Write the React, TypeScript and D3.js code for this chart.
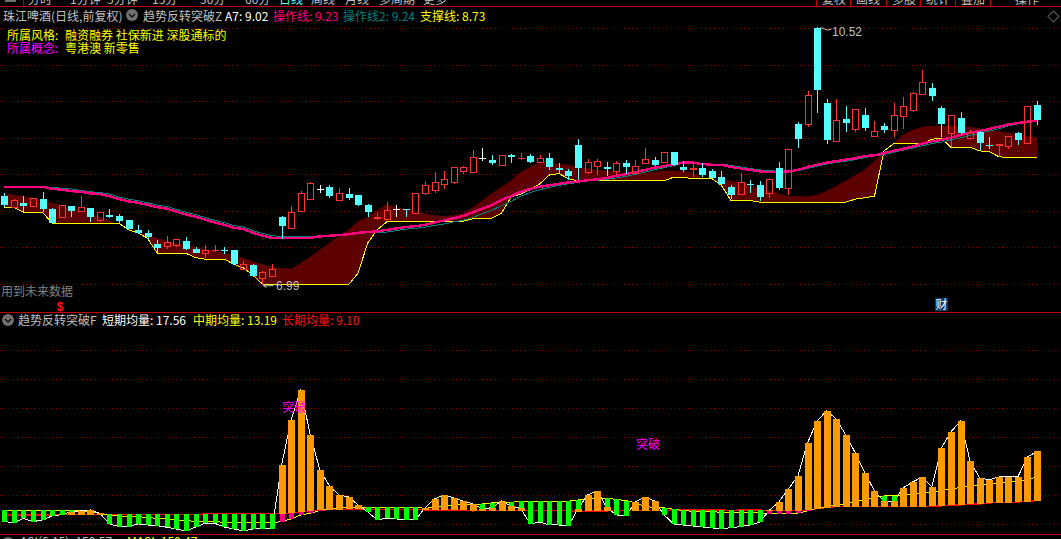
import * as d3 from 'd3';

const WIDTH = 1061;
const HEIGHT = 539;

// candles (price)
const opens = [8.20,8.06,8.11,8.06,8.16,8.03,7.91,8.06,7.99,8.04,7.87,7.95,7.93,7.88,7.74,7.70,7.55,7.51,7.54,7.59,7.48,7.43,7.44,7.46,7.46,7.21,7.26,7.09,7.12,7.92,7.77,7.99,8.16,8.30,8.33,8.16,8.23,8.21,8.08,7.88,7.89,8.02,8.02,7.97,8.24,8.28,8.36,8.39,8.54,8.52,8.72,8.70,8.63,8.76,8.71,8.75,8.66,8.72,8.59,8.55,8.90,8.54,8.61,8.60,8.55,8.66,8.52,8.66,8.70,8.66,8.81,8.60,8.55,8.59,8.55,8.46,8.33,8.22,8.37,8.35,8.24,8.59,8.30,9.19,9.19,10.50,9.48,8.95,9.26,9.12,9.31,9.02,9.16,9.10,9.29,9.38,9.60,9.68,9.41,9.07,9.27,9.00,9.08,8.90,8.88,8.89,9.07,8.92,9.45];
const closes = [8.08,8.15,8.07,8.17,8.03,7.84,8.08,7.99,8.05,7.92,7.98,7.92,7.86,7.76,7.70,7.64,7.50,7.57,7.62,7.48,7.43,7.47,7.46,7.45,7.27,7.28,7.11,7.17,7.21,7.80,7.99,8.24,8.38,8.30,8.21,8.25,8.18,8.07,7.98,7.91,8.01,8.02,8.01,8.24,8.35,8.39,8.43,8.60,8.60,8.73,8.72,8.66,8.76,8.73,8.72,8.67,8.72,8.60,8.56,8.48,8.58,8.67,8.68,8.57,8.66,8.60,8.61,8.71,8.63,8.80,8.63,8.56,8.58,8.50,8.46,8.37,8.22,8.39,8.36,8.18,8.43,8.31,8.84,8.98,9.59,9.65,8.97,9.24,9.20,9.39,9.13,9.09,9.11,9.31,9.43,9.61,9.76,9.57,9.19,9.31,9.07,9.07,8.93,8.89,8.91,9.02,8.98,9.43,9.24];
const highs = [8.24,8.16,8.20,8.17,8.26,8.04,8.08,8.07,8.20,8.04,7.99,8.02,7.96,7.88,7.81,7.74,7.60,7.66,7.62,7.64,7.50,7.53,7.53,7.51,7.47,7.32,7.27,7.18,7.27,7.93,8.07,8.27,8.39,8.35,8.35,8.31,8.31,8.21,8.10,7.97,8.12,8.08,8.03,8.24,8.41,8.53,8.55,8.60,8.61,8.83,8.86,8.76,8.76,8.78,8.79,8.78,8.76,8.79,8.66,8.57,8.98,8.71,8.71,8.67,8.68,8.70,8.70,8.86,8.73,8.81,8.81,8.68,8.65,8.65,8.57,8.55,8.35,8.52,8.42,8.41,8.45,8.67,8.84,9.21,9.64,10.52,9.53,9.53,9.43,9.39,9.41,9.23,9.20,9.48,9.56,9.63,9.92,9.75,9.44,9.31,9.35,9.11,9.09,9.01,8.92,9.03,9.08,9.43,9.50];
const lows = [8.05,8.05,7.99,8.06,7.99,7.83,7.91,7.91,7.99,7.85,7.85,7.90,7.84,7.75,7.68,7.62,7.43,7.48,7.51,7.46,7.42,7.36,7.44,7.41,7.26,7.20,7.10,6.99,7.11,7.62,7.76,7.99,8.15,8.25,8.18,8.15,8.15,8.06,7.92,7.88,7.89,7.92,7.92,7.96,8.22,8.25,8.30,8.37,8.50,8.52,8.68,8.63,8.61,8.66,8.70,8.66,8.66,8.56,8.51,8.42,8.42,8.50,8.49,8.47,8.49,8.50,8.51,8.64,8.61,8.65,8.62,8.53,8.46,8.46,8.45,8.33,8.16,8.22,8.25,8.14,8.18,8.29,8.22,8.86,9.14,9.34,8.92,8.95,9.08,9.08,9.09,9.01,9.07,9.01,9.12,9.35,9.60,9.50,9.01,8.87,9.04,8.97,8.83,8.85,8.73,8.85,8.90,8.92,9.18];

// upper panel lines
const opLine = [8.33,8.33,8.33,8.33,8.33,8.30,8.29,8.27,8.26,8.24,8.23,8.20,8.16,8.13,8.11,8.08,8.05,8.03,7.99,7.95,7.92,7.88,7.84,7.81,7.77,7.75,7.70,7.66,7.63,7.63,7.63,7.63,7.63,7.65,7.66,7.67,7.68,7.70,7.71,7.72,7.74,7.76,7.78,7.79,7.81,7.84,7.87,7.90,7.93,7.98,8.03,8.08,8.15,8.20,8.26,8.30,8.33,8.35,8.37,8.39,8.40,8.42,8.43,8.45,8.48,8.50,8.53,8.56,8.59,8.61,8.64,8.66,8.66,8.64,8.63,8.63,8.60,8.58,8.56,8.54,8.53,8.53,8.54,8.56,8.60,8.63,8.66,8.68,8.70,8.72,8.75,8.76,8.79,8.82,8.85,8.88,8.92,8.95,8.97,9.00,9.04,9.07,9.09,9.12,9.15,9.18,9.20,9.22,9.23];
const opLine2 = [8.32,8.32,8.32,8.32,8.32,8.32,8.31,8.30,8.28,8.26,8.25,8.23,8.19,8.16,8.14,8.11,8.08,8.06,8.02,7.98,7.95,7.91,7.87,7.84,7.80,7.78,7.73,7.69,7.66,7.65,7.65,7.65,7.65,7.66,7.66,7.67,7.68,7.69,7.70,7.70,7.71,7.73,7.75,7.76,7.78,7.80,7.82,7.85,7.87,7.91,7.96,8.01,8.07,8.13,8.20,8.25,8.29,8.32,8.35,8.37,8.39,8.41,8.42,8.43,8.45,8.47,8.50,8.53,8.56,8.59,8.62,8.65,8.66,8.65,8.64,8.64,8.62,8.60,8.58,8.56,8.55,8.54,8.54,8.55,8.58,8.61,8.64,8.66,8.68,8.70,8.73,8.75,8.77,8.80,8.83,8.86,8.89,8.92,8.94,8.97,9.00,9.03,9.06,9.09,9.12,9.16,9.19,9.22,9.24];
const support = [8.05,8.05,7.98,7.98,7.98,7.83,7.83,7.83,7.83,7.83,7.83,7.83,7.83,7.74,7.70,7.62,7.42,7.42,7.42,7.42,7.36,7.34,7.34,7.34,7.27,7.22,7.12,7.00,6.99,6.99,6.99,6.99,6.99,6.99,6.99,6.99,6.99,7.15,7.56,7.74,7.85,7.86,7.86,7.86,7.86,7.86,7.86,7.86,7.86,7.89,7.89,7.90,7.97,8.19,8.23,8.29,8.37,8.49,8.51,8.44,8.41,8.41,8.41,8.41,8.41,8.41,8.41,8.41,8.41,8.41,8.46,8.46,8.44,8.44,8.44,8.35,8.14,8.14,8.14,8.12,8.12,8.12,8.12,8.12,8.12,8.12,8.12,8.12,8.12,8.16,8.18,8.20,8.82,8.92,8.92,8.92,8.92,8.98,8.99,8.87,8.87,8.87,8.82,8.81,8.74,8.73,8.73,8.73,8.73];
const bandTop = [8.24,8.22,8.20,8.18,8.14,8.11,8.07,8.04,8.00,7.96,7.92,7.86,7.82,7.77,7.71,7.67,7.63,7.59,7.56,7.53,7.51,7.48,7.45,7.42,7.39,7.36,7.31,7.27,7.23,7.22,7.21,7.29,7.37,7.47,7.56,7.66,7.74,7.86,7.92,8.01,8.09,8.05,8.03,7.98,7.96,7.94,7.93,7.94,7.97,8.05,8.14,8.24,8.33,8.42,8.53,8.60,8.67,8.66,8.64,8.63,8.60,8.59,8.56,8.55,8.53,8.52,8.50,8.52,8.53,8.55,8.55,8.55,8.52,8.46,8.44,8.44,8.41,8.38,8.35,8.30,8.27,8.24,8.20,8.20,8.20,8.22,8.27,8.34,8.41,8.49,8.57,8.68,8.81,8.93,9.04,9.11,9.15,9.16,9.16,9.16,9.16,9.15,9.13,9.11,9.09,9.07,9.05,9.02,9.01];

// lower panel lines
const shortMa = [5.46,5.29,6.03,5.46,5.75,6.44,6.67,7.13,7.30,7.47,6.90,5.06,4.60,4.60,5.06,4.88,4.77,4.48,4.19,3.85,4.54,5.17,5.17,4.54,4.19,3.85,4.19,4.19,4.19,15.23,23.00,28.17,20.41,14.37,11.61,10.06,9.71,8.33,7.13,5.75,6.09,5.92,5.75,5.75,7.87,9.37,10.06,9.54,9.02,8.50,7.70,7.87,9.02,8.16,7.76,5.06,5.40,4.88,4.88,4.71,7.70,10.06,10.75,7.93,6.61,6.44,8.85,9.71,9.02,6.61,5.06,4.88,4.71,4.54,4.37,4.25,4.42,4.60,4.88,5.34,7.41,8.85,11.09,13.34,19.03,22.82,24.55,23.17,20.41,17.30,13.85,10.75,8.97,8.97,11.27,12.30,13.16,11.44,18.17,20.93,22.82,15.92,12.99,12.65,13.16,13.16,13.16,16.61,17.56];
const midMa = [7.41,7.41,7.41,7.41,7.41,7.41,7.41,7.41,7.30,7.18,6.88,6.61,6.44,6.32,6.32,6.15,6.03,5.92,5.75,5.63,5.52,5.40,5.46,5.34,5.29,5.29,5.29,5.29,5.29,5.46,5.92,6.61,6.90,7.36,7.76,7.82,7.82,7.87,7.93,7.93,7.93,7.93,7.93,7.93,7.76,7.93,8.16,8.28,8.50,8.50,8.50,8.68,8.74,8.79,8.97,8.97,8.97,8.97,8.97,8.97,9.20,9.31,9.48,9.48,9.31,9.08,8.74,8.05,7.93,7.82,7.59,7.36,7.24,7.18,7.18,7.07,7.07,7.07,7.07,7.01,6.84,6.84,6.84,6.95,7.30,7.82,8.05,8.28,8.50,8.91,9.20,9.60,9.89,9.89,10.00,10.17,10.35,10.46,10.92,11.04,11.38,11.61,11.78,11.96,12.07,12.24,12.47,12.65,13.19];
const longMa = [6.61,6.61,6.61,6.61,6.61,6.61,6.67,6.67,6.67,6.67,6.67,6.72,6.72,6.72,6.72,6.72,6.72,6.72,6.72,6.72,6.72,6.78,6.84,6.84,6.84,6.84,6.84,6.84,6.84,6.84,6.90,7.13,7.30,7.41,7.53,7.53,7.59,7.59,7.64,7.59,7.59,7.59,7.59,7.59,7.47,7.47,7.47,7.47,7.47,7.30,7.36,7.36,7.36,7.36,7.36,7.36,7.36,7.36,7.36,7.36,7.18,7.30,7.30,7.30,7.36,7.36,7.36,7.36,7.36,7.41,7.47,7.47,7.47,7.47,7.47,7.47,7.41,7.47,7.47,7.47,7.36,7.36,7.36,7.36,7.47,7.70,7.87,8.05,8.05,8.05,8.05,8.05,8.05,8.05,8.05,8.05,8.05,8.16,8.16,8.33,8.33,8.50,8.50,8.68,8.74,8.74,8.85,8.91,9.10];

const gridPrices = [10.5, 10, 9.5, 9, 8.5, 8, 7.5, 7];
const gridVolumes = [35, 30, 25, 20, 15, 10, 5];
const breakoutIdx = [30, 67];
const breakoutVal = [25.3, 18.8];

const topMenu = ['分时', '1分钟', '5分钟', '15分', '30分', '60分', '日线', '周线', '月线', '多周期', '更多'];
const topMenuX = [28, 70, 107, 152, 200, 245, 279, 311, 345, 379, 423];
const topMenuRight = ['复权', '画线', '多股', '统计', '叠加', '操作'];
const topMenuRightX = [822, 856, 892, 926, 961, 1015];
const topSeparators = [23, 816, 850, 886, 920, 955, 990];

const x = d3.scaleLinear().domain([0, 108]).range([4.3, 1037]);
const yPrice = d3.scaleLinear().domain([7, 10.5]).range([284, 28]);
const yVol = d3.scaleLinear().domain([10, 35]).range([495.3, 350.3]);

const cx = (i: number) => Math.round(x(i)) + 0.5;
const idx = d3.range(opens.length);

const bandPath = d3.area<number>().x(i => x(i)).y0(i => yPrice(support[i])).y1(i => yPrice(bandTop[i]))(idx)!;
const priceLine = (s: number[]) => d3.line<number>().x(i => x(i)).y(i => yPrice(s[i]))(idx)!;
const volLine = (s: number[]) => d3.line<number>().x(i => x(i)).y(i => yVol(s[i]))(idx)!;

const CYAN = '#54ffff';
const RED = '#ff3232';
const PINK = '#ff0080';
const TEAL = '#008080';
const GRAY = '#c0c0c0';
const CJK = '"Noto Sans CJK SC", sans-serif';
const LATIN = '"Liberation Sans", sans-serif';

function Label({ x, y, fill, children, font = CJK }: any) {
  return <text x={x} y={y} fill={fill} fontFamily={font} fontSize={12}>{children}</text>;
}

function PanelIcon({ x, y }: { x: number; y: number }) {
  return (
    <g>
      <circle cx={x} cy={y} r={6} fill="#707070" />
      <path d={`M${x - 3},${y - 1}L${x},${y + 2}L${x + 3},${y - 1}`} fill="none" stroke="#111" strokeWidth={1.5} />
    </g>
  );
}

function Candle({ i }: { i: number }) {
  const o = opens[i], c = closes[i];
  const color = c > o ? RED : c === o ? '#ffffff' : CYAN;
  const px = cx(i);
  const top = yPrice(Math.max(o, c));
  const bottom = yPrice(Math.min(o, c));
  const h = Math.round(bottom - top);
  const t = Math.round(top);
  return (
    <g shapeRendering="crispEdges">
      <line x1={px} x2={px} y1={yPrice(highs[i])} y2={t} stroke={color} />
      <line x1={px} x2={px} y1={t + h} y2={yPrice(lows[i])} stroke={color} />
      {c > o && h > 2
        ? <rect x={px - 3} y={t + 0.5} width={6} height={h} fill="none" stroke={color} />
        : <rect x={px - 3.5} y={t} width={7} height={Math.max(h, 1)} fill={color} />}
    </g>
  );
}

function VolBar({ i }: { i: number }) {
  const s = shortMa[i], m = midMa[i], l = longMa[i];
  const px = cx(i);
  // orange bars are wider than the green and pink ones
  const bar = (from: number, to: number, fill: string, w: number) => (
    <rect x={px - w / 2} y={yVol(from)} width={w} height={Math.max(yVol(to) - yVol(from), 0)} fill={fill} />
  );
  return (
    <g shapeRendering="crispEdges">
      {s > l && bar(s, l, '#ff9900', 7)}
      {m < l && bar(l, m, PINK, 5)}
      {s < m && bar(Math.max(m, l), s, '#00ff00', 5)}
    </g>
  );
}

export default function App() {
  return (
    <>
      <style>{`body{margin:0;background:#000}`}</style>
      <svg width={WIDTH} height={HEIGHT} style={{ display: 'block', background: '#000' }}>
        {/* clipped menu strip */}
        <rect x={5} y={0} width={11} height={2} fill="#707070" />
        {topMenu.map((t, i) => (
          <text key={t} x={topMenuX[i]} y={4} fill={t === '日线' ? CYAN : GRAY} fontFamily={CJK} fontSize={12}>{t}</text>
        ))}
        {topMenuRight.map((t, i) => (
          <text key={t} x={topMenuRightX[i]} y={4} fill={GRAY} fontFamily={CJK} fontSize={12}>{t}</text>
        ))}
        <rect x={0} y={5} width={WIDTH} height={8} fill="#000" />
        {topSeparators.map(s => <line key={s} x1={s + 0.5} x2={s + 0.5} y1={0} y2={6} stroke="#c00000" />)}
        <line x1={0} x2={WIDTH} y1={6.5} y2={6.5} stroke="#c00000" />
        <line x1={0} x2={WIDTH} y1={312.5} y2={312.5} stroke="#c00000" />
        <line x1={0} x2={WIDTH} y1={534.5} y2={534.5} stroke="#c00000" />

        {gridPrices.map(p => (
          <line key={p} x1={0} x2={WIDTH} y1={Math.round(yPrice(p)) + 0.5} y2={Math.round(yPrice(p)) + 0.5}
            stroke="#900000" strokeDasharray="1 3.3" shapeRendering="crispEdges" />
        ))}
        {gridVolumes.map(v => (
          <line key={v} x1={0} x2={WIDTH} y1={Math.round(yVol(v)) + 0.5} y2={Math.round(yVol(v)) + 0.5}
            stroke="#900000" strokeDasharray="1 3.3" shapeRendering="crispEdges" />
        ))}

        {/* upper panel */}
        <path d={bandPath} fill="#5c0000" />
        <path d={priceLine(support)} fill="none" stroke="#ffff00" strokeWidth={1} shapeRendering="crispEdges" />
        <path d={priceLine(opLine2)} fill="none" stroke={TEAL} strokeWidth={1} shapeRendering="crispEdges" />
        <path d={priceLine(opLine)} fill="none" stroke={PINK} strokeWidth={2.4} shapeRendering="crispEdges" />
        {idx.map(i => <Candle key={i} i={i} />)}

        <path d={`M${cx(85) + 3},${yPrice(10.52) + 1}l7,2.5l4,-1`} fill="none" stroke={GRAY} />
        <Label x={832} y={36} fill={GRAY} font={LATIN}>10.52</Label>
        <path d={`M${cx(27) + 11},${yPrice(6.99) + 1}h-10l3,-2m-3,2l3,2`} fill="none" stroke={GRAY} />
        <Label x={276} y={290} fill={GRAY} font={LATIN}>6.99</Label>

        <Label x={3} y={20.5} fill={GRAY}>珠江啤酒(日线,前复权)</Label>
        <PanelIcon x={132} y={15} />
        <Label x={143} y={20.5} fill={GRAY}>趋势反转突破Z</Label>
        <Label x={225} y={20.5} fill="#ffffff">A7: 9.02</Label>
        <Label x={273} y={20.5} fill={PINK}>操作线: 9.23</Label>
        <Label x={343} y={20.5} fill={TEAL}>操作线2: 9.24</Label>
        <Label x={420} y={20.5} fill="#ffff00">支撑线: 8.73</Label>

        <Label x={7} y={40} fill="#ffff00">所属风格:</Label>
        <Label x={65} y={40} fill="#ffff00">融资融券 社保新进 深股通标的</Label>
        <Label x={7} y={53} fill="#ff00ff">所属概念:</Label>
        <Label x={65} y={53} fill="#ffff00">粤港澳 新零售</Label>

        <path d="M1053.5,11l5.5,5.5l-5.5,5.5l-5.5,-5.5z" fill="none" stroke="#8a8a8a" />

        <Label x={1} y={296} fill="#808080">用到未来数据</Label>
        <text x={60} y={311} fill="#ff1010" fontFamily={LATIN} fontSize={12} fontWeight="bold" textAnchor="middle">$</text>
        <rect x={935} y={298} width={13} height={13} fill="#0a3a6e" />
        <text x={941.5} y={309} fill="#ffffff" fontFamily={CJK} fontSize={12} textAnchor="middle">财</text>

        {/* lower panel */}
        <path d={volLine(longMa)} fill="none" stroke="#ff0000" strokeWidth={1.2} shapeRendering="crispEdges" />
        <path d={volLine(midMa)} fill="none" stroke="#ffff00" strokeWidth={1} shapeRendering="crispEdges" />
        <path d={volLine(shortMa)} fill="none" stroke="#ffffff" strokeWidth={1} shapeRendering="crispEdges" />
        {idx.map(i => <VolBar key={i} i={i} />)}

        {breakoutIdx.map((b, k) => (
          <text key={b} x={x(b) + 3} y={yVol(breakoutVal[k]) + 5} fill="#ff00ff" fontFamily={CJK} fontSize={12} textAnchor="middle">突破</text>
        ))}

        <PanelIcon x={8} y={320} />
        <Label x={18} y={325} fill={GRAY}>趋势反转突破F</Label>
        <Label x={102} y={325} fill="#ffffff">短期均量: 17.56</Label>
        <Label x={193} y={325} fill="#ffff00">中期均量: 13.19</Label>
        <Label x={282} y={325} fill="#ff1010">长期均量: 9.10</Label>

        <PanelIcon x={8} y={543} />
        <Label x={20} y={546} fill={GRAY}>ASI(6,15): 150.57</Label>
        <Label x={127} y={546} fill="#ffff00">MASI: 150.47</Label>
      </svg>
    </>
  );
}
